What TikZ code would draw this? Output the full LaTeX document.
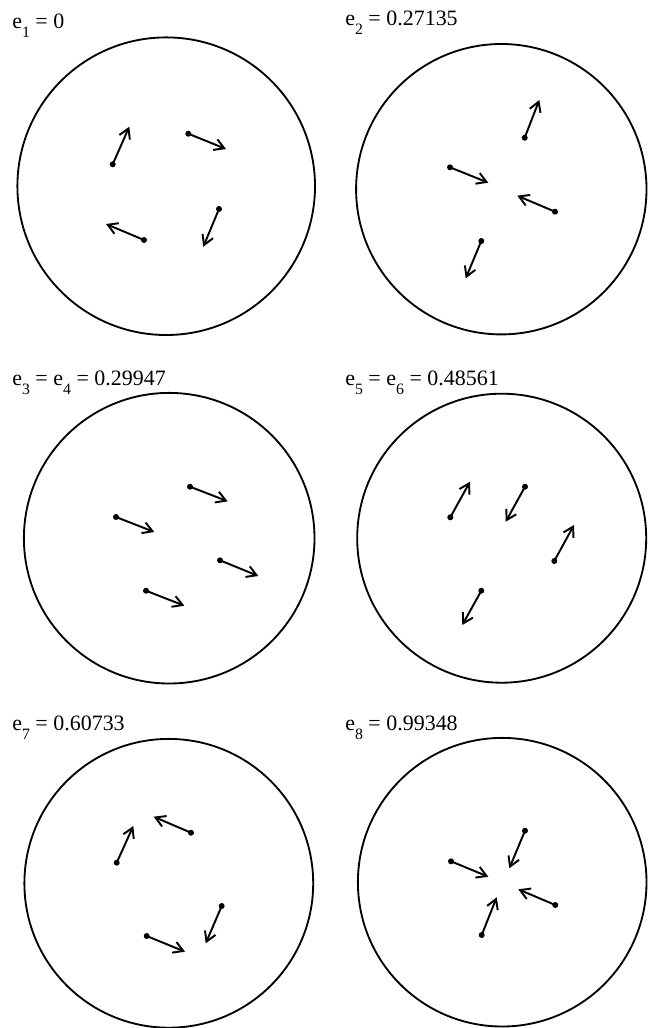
\documentclass[tikz,border=0pt]{standalone}
\usepackage{fontspec}
\setmainfont{Liberation Serif}
\usetikzlibrary{arrows.meta}
\newcommand{\lsub}[1]{\raisebox{-0.45em}{\fontsize{9}{10}\selectfont #1}}

\begin{document}
\begin{tikzpicture}[x=0.02cm,y=-0.02cm,
  rim/.style={line width=1.05pt},
  dot/.style={circle,fill,inner sep=0pt,minimum size=0.12cm},
  vec/.style={line width=1.1pt,-{Straight Barb[length=5.5pt,width=6.5pt,line width=1.1pt]}},
  lbl/.style={anchor=base west,inner sep=0pt,font=\fontsize{12.5}{15}\selectfont}]
\useasboundingbox (0,0) rectangle (647,1028);

% e_1
\draw[rim] (166.2,186.2) circle[radius=148.8];
\node[lbl] (l1) at (12,28) {e\lsub{1} = 0};
\node[dot] (p1a) at (112.7,164.3) {};
\node[dot] (p1b) at (188.3,133.7) {};
\node[dot] (p1c) at (219,209) {};
\node[dot] (p1d) at (144,240) {};
\coordinate (q1a) at (129.3,126.7);
\coordinate (q1b) at (226,149);
\coordinate (q1c) at (203.3,246.7);
\coordinate (q1d) at (106,224);
\draw[vec] (p1a.center) -- (q1a);
\draw[vec] (p1b.center) -- (q1b);
\draw[vec] (p1c.center) -- (q1c);
\draw[vec] (p1d.center) -- (q1d);

% e_2
\draw[rim] (501.3,189.2) circle[radius=145.2];
\node[lbl] (l2) at (345,25) {e\lsub{2} = 0.27135};
\node[dot] (p2a) at (524.7,137.7) {};
\node[dot] (p2b) at (450,167.3) {};
\node[dot] (p2c) at (555,211.7) {};
\node[dot] (p2d) at (481.3,241) {};
\coordinate (q2a) at (539.3,100);
\coordinate (q2b) at (488.3,182.7);
\coordinate (q2c) at (517.3,195.7);
\coordinate (q2d) at (465.7,278.3);
\draw[vec] (p2a.center) -- (q2a);
\draw[vec] (p2b.center) -- (q2b);
\draw[vec] (p2c.center) -- (q2c);
\draw[vec] (p2d.center) -- (q2d);

% e_3 = e_4
\draw[rim] (169.2,538.2) circle[radius=145.3];
\node[lbl] (l3) at (12,385) {e\lsub{3} = e\lsub{4} = 0.29947};
\node[dot] (p3a) at (190,486.7) {};
\node[dot] (p3b) at (116,517) {};
\node[dot] (p3c) at (220,560.3) {};
\node[dot] (p3d) at (146,590.7) {};
\coordinate (q3a) at (227.7,501.3);
\coordinate (q3b) at (154.3,532);
\coordinate (q3c) at (258.3,576);
\coordinate (q3d) at (184.3,605.7);
\draw[vec] (p3a.center) -- (q3a);
\draw[vec] (p3b.center) -- (q3b);
\draw[vec] (p3c.center) -- (q3c);
\draw[vec] (p3d.center) -- (q3d);

% e_5 = e_6
\draw[rim] (501.7,538.2) circle[radius=144.5];
\node[lbl] (l4) at (345,385) {e\lsub{5} = e\lsub{6} = 0.48561};
\node[dot] (p4a) at (450.3,517.3) {};
\node[dot] (p4b) at (525,486.7) {};
\node[dot] (p4c) at (554.3,561) {};
\node[dot] (p4d) at (481.3,590.7) {};
\coordinate (q4a) at (470,481.7);
\coordinate (q4b) at (505.7,521.7);
\coordinate (q4c) at (574,525);
\coordinate (q4d) at (462.3,625);
\draw[vec] (p4a.center) -- (q4a);
\draw[vec] (p4b.center) -- (q4b);
\draw[vec] (p4c.center) -- (q4c);
\draw[vec] (p4d.center) -- (q4d);

% e_7
\draw[rim] (168.8,883.3) circle[radius=144.4];
\node[lbl] (l5) at (12,730) {e\lsub{7} = 0.60733};
\node[dot] (p5a) at (116.7,862.7) {};
\node[dot] (p5b) at (191,832.7) {};
\node[dot] (p5c) at (221.7,906) {};
\node[dot] (p5d) at (146.7,936) {};
\coordinate (q5a) at (133.3,826);
\coordinate (q5b) at (153.7,816.7);
\coordinate (q5c) at (205.7,943.3);
\coordinate (q5d) at (185,951.7);
\draw[vec] (p5a.center) -- (q5a);
\draw[vec] (p5b.center) -- (q5b);
\draw[vec] (p5c.center) -- (q5c);
\draw[vec] (p5d.center) -- (q5d);

% e_8
\draw[rim] (502.2,882.2) circle[radius=144.3];
\node[lbl] (l6) at (345,730) {e\lsub{8} = 0.99348};
\node[dot] (p6a) at (525,830.7) {};
\node[dot] (p6b) at (451,861.3) {};
\node[dot] (p6c) at (555.3,905) {};
\node[dot] (p6d) at (481.7,935) {};
\coordinate (q6a) at (509.3,868.3);
\coordinate (q6b) at (488.3,876.7);
\coordinate (q6c) at (518.3,889.3);
\coordinate (q6d) at (496.7,897.3);
\draw[vec] (p6a.center) -- (q6a);
\draw[vec] (p6b.center) -- (q6b);
\draw[vec] (p6c.center) -- (q6c);
\draw[vec] (p6d.center) -- (q6d);
\end{tikzpicture}
\end{document}
